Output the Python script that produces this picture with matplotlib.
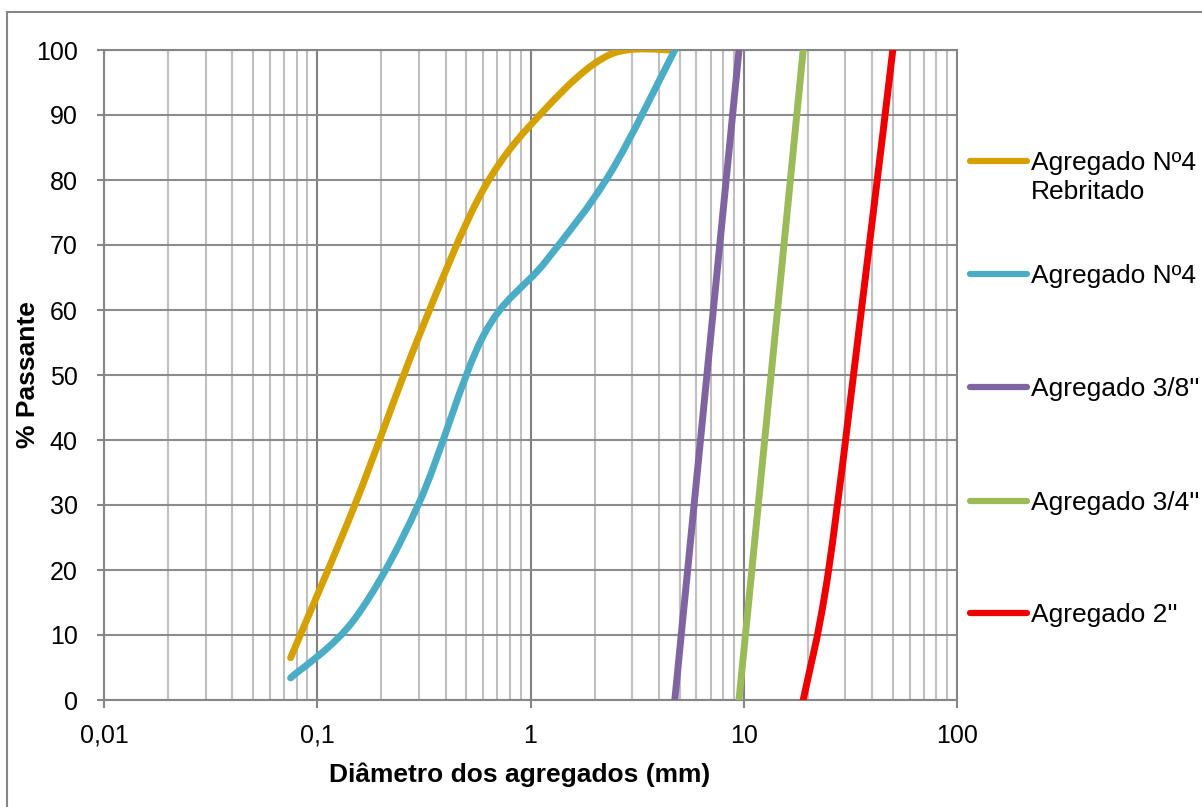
import numpy as np
import matplotlib
matplotlib.use('Agg')
from matplotlib import pyplot as plt
from matplotlib.path import Path
from matplotlib.patches import PathPatch, Rectangle
from matplotlib.ticker import LogLocator, FixedLocator, FixedFormatter, NullFormatter

plt.rcParams['font.family'] = ['Liberation Sans', 'DejaVu Sans']

# curvas granulométricas (abertura da peneira em mm, % passante)
reb_d = [0.075, 0.15, 0.3, 0.6, 1.18, 2.36, 4.75]
reb_p = [6.5, 30, 56, 78.5, 91, 99.3, 100]

n4_d = [0.075, 0.15, 0.3, 0.6, 1.18, 2.36, 4.75]
n4_p = [3.4, 12.5, 30.3, 56, 67.5, 81, 100]

b38_d = [4.75, 9.5]
b38_p = [0, 100]

b34_d = [9.5, 19]
b34_p = [0, 100]

b2_d = [19, 25, 37.5, 50]
b2_p = [0, 20, 66, 100]

names = ['Agregado Nº4\nRebritado', 'Agregado Nº4', "Agregado 3/8''", "Agregado 3/4''", "Agregado 2''"]
colors = ['#D4A100', '#4BACC6', '#8064A2', '#9BBB59', '#EE0000']

x_ticks = [0.01, 0.1, 1, 10, 100]
x_labels = ['0,01', '0,1', '1', '10', '100']
y_ticks = list(range(0, 101, 10))

W, H = 1202, 807
fig = plt.figure(figsize=(W / 100, H / 100), dpi=100)
ax = fig.add_axes([104 / W, 1 - 700 / H, 853 / W, 650 / H])


def smooth_path(d, p):
    # curva suavizada (Bezier) calculada no espaço log
    lx = np.log10(d)
    pts = np.column_stack([lx, p])
    n = len(pts)
    verts = [pts[0]]
    codes = [Path.MOVETO]
    for i in range(n - 1):
        p0 = pts[i - 1] if i > 0 else pts[i]
        p1 = pts[i]
        p2 = pts[i + 1]
        p3 = pts[i + 2] if i + 2 < n else pts[i + 1]
        c1 = p1 + (p2 - p0) / 6
        c2 = p2 - (p3 - p1) / 6
        verts += [c1, c2, p2]
        codes += [Path.CURVE4] * 3
    verts = np.array(verts)
    verts[:, 0] = 10 ** verts[:, 0]
    return Path(verts, codes)


series = [(reb_d, reb_p), (n4_d, n4_p), (b38_d, b38_p), (b34_d, b34_p), (b2_d, b2_p)]
for (d, p), c in zip(series, colors):
    patch = PathPatch(smooth_path(d, p), fill=False, edgecolor=c, lw=5,
                      capstyle='round', joinstyle='round', zorder=3)
    ax.add_patch(patch)

ax.set_xscale('log')
ax.set_xlim(0.01, 100)
ax.set_ylim(0, 100)

ax.xaxis.set_major_locator(FixedLocator(x_ticks))
ax.xaxis.set_major_formatter(FixedFormatter(x_labels))
ax.xaxis.set_minor_locator(LogLocator(base=10, subs=np.arange(2, 10)))
ax.xaxis.set_minor_formatter(NullFormatter())
ax.set_yticks(y_ticks)

ax.grid(which='minor', axis='x', color='#BFBFBF', lw=1.5)
ax.grid(which='major', axis='x', color='#808080', lw=1.5)
ax.grid(which='major', axis='y', color='#8C8C8C', lw=1.5)
ax.set_axisbelow(True)

for s in ax.spines.values():
    s.set_color('#868686')
    s.set_linewidth(1.5)

ax.tick_params(axis='x', which='major', length=6, width=1.5, color='#868686',
               labelsize=18, pad=11)
ax.tick_params(axis='x', which='minor', length=0)
ax.tick_params(axis='y', length=5, width=1.5, color='#868686', labelsize=18, pad=14)

ax.set_xlabel('Diâmetro dos agregados (mm)', fontsize=19, fontweight='bold', va='center')
ax.xaxis.set_label_coords(0.4877, -0.115)
ax.set_ylabel('% Passante', fontsize=19, fontweight='bold', va='center')
ax.yaxis.set_label_coords(-0.089, 0.5)

# legenda à direita
leg_y = [161, 274, 387, 501, 613]
for y, name, c in zip(leg_y, names, colors):
    fy = 1 - y / H
    fig.add_artist(plt.Line2D([970 / W, 1027 / W], [fy, fy], color=c, lw=4.5,
                              solid_capstyle='round', transform=fig.transFigure))
    lines = name.split('\n')
    for k, t in enumerate(lines):
        fig.text(1031 / W, 1 - (y + 2 + 29 * k) / H, t, fontsize=19, ha='left', va='center')

# borda da área do gráfico
fig.add_artist(Rectangle((7 / W, -0.1), 1.2, 1 - 12 / H + 0.1, fill=False,
                         edgecolor='#868686', lw=1.5, transform=fig.transFigure))

fig.savefig('out.png', dpi=100)
